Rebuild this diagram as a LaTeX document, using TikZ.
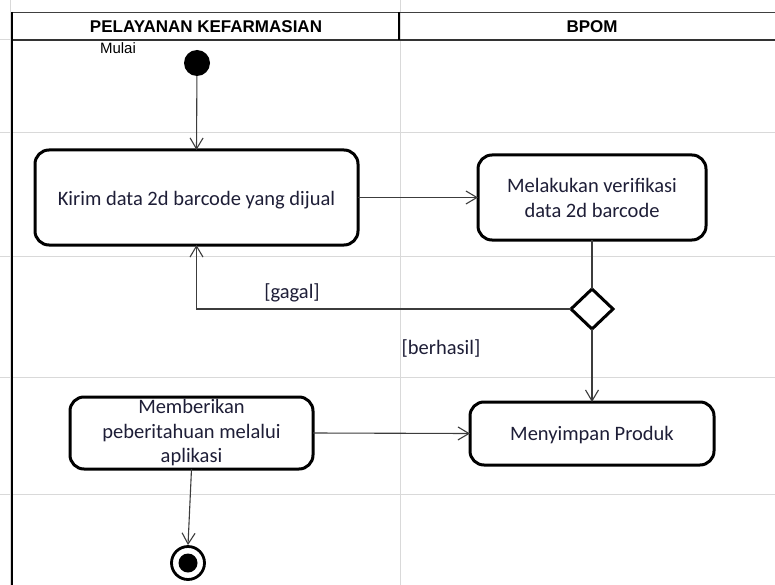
\documentclass[tikz,border=0pt]{standalone}
\usepackage{fontspec}
\setmainfont{Carlito}
\newfontfamily\hdrfont{Liberation Sans}
\usetikzlibrary{arrows.meta,shapes.geometric}
\definecolor{gridc}{RGB}{217,217,217}
\definecolor{linec}{RGB}{60,60,60}
\definecolor{txtc}{RGB}{30,30,55}
\newcommand{\lowered}[2]{\vphantom{Kg}\raisebox{-#1}[0pt][0pt]{#2}}
\begin{document}
\begin{tikzpicture}[x=1pt,y=-1pt,
  grid/.style={draw=gridc,line width=1pt},
  act/.style={draw=black,line width=3pt,rounded corners=14pt,align=center,
    text=txtc,font=\fontsize{20.5}{25}\selectfont,inner sep=0pt,outer sep=0pt},
  flow/.style={draw=linec,line width=1.1pt,-{Straight Barb[length=11pt,width=13pt,line width=1.1pt]}},
  plain/.style={draw=linec,line width=1.1pt},
  lbl/.style={text=txtc,font=\fontsize{20.5}{24}\selectfont,inner sep=0pt},
  hdr/.style={font=\hdrfont\bfseries\fontsize{17}{20}\selectfont,inner sep=0pt}]
\useasboundingbox (0,0) rectangle (775,585);
\fill[white] (0,0) rectangle (775,585);
% spreadsheet grid
\foreach \yy in {40,133,256,377,494} \draw[grid] (0,\yy) -- (775,\yy);
\draw[grid] (10,0) -- (10,585);
\draw[grid] (400,0) -- (400,585);
% swimlane header
\draw[draw=black!75,line width=1.4pt] (12,12.5) -- (775,12.5);
\draw[draw=black!80,line width=1.2pt] (12,40) -- (775,40);
\draw[black,line width=1.2pt] (12,12) -- (12,585);
\draw[black,line width=1.2pt] (399,12) -- (399,40);
\node[hdr] (h1) at (206,27) {PELAYANAN KEFARMASIAN};
\node[hdr] (h2) at (592,27) {BPOM};
% nodes
\node[font=\hdrfont\fontsize{15}{17}\selectfont,inner sep=0pt] (mulai) at (118,48) {Mulai};
\node[circle,fill=black,minimum size=26pt,inner sep=0pt] (start) at (197,63) {};
\node[act,minimum width=323pt,minimum height=95pt] (kirim) at (196.5,197.5) {\lowered{3pt}{Kirim data 2d barcode yang dijual}};
\node[act,minimum width=228pt,minimum height=85pt] (verif) at (592,197.5) {Melakukan verifikasi\\data 2d barcode};
\node[diamond,aspect=1,draw=black,line width=3pt,minimum width=42pt,minimum height=40pt,inner sep=0pt,outer sep=0pt] (dec) at (592,309) {};
\node[act,minimum width=244pt,minimum height=63pt] (simpan) at (592,433.5) {\lowered{2.5pt}{Menyimpan Produk}};
\node[act,minimum width=243pt,minimum height=72pt,font=\fontsize{20.5}{24.5}\selectfont] (beri) at (191.5,433) {Memberikan\\peberitahuan melalui\\aplikasi};
\node[circle,draw=black,line width=2.8pt,minimum size=33pt,inner sep=0pt] (end) at (188,563) {};
\fill[black] (end.center) circle (9.5pt);
% connectors
\draw[flow] (start) -- (kirim.north);
\draw[flow] (kirim.east) -- (verif.west);
\draw[plain] (verif.south) -- (dec.north);
\draw[flow] (dec.west) -| (kirim.south);
\draw[flow] (dec.south) -- (simpan.north);
\draw[flow] (beri.east) -- (simpan.west);
\draw[flow] (beri.south) -- (end.north);
% guard labels
\node[lbl] (gagal) at (292,293) {[gagal]};
\node[lbl] (berhasil) at (441,348) {[berhasil]};
\end{tikzpicture}
\end{document}
